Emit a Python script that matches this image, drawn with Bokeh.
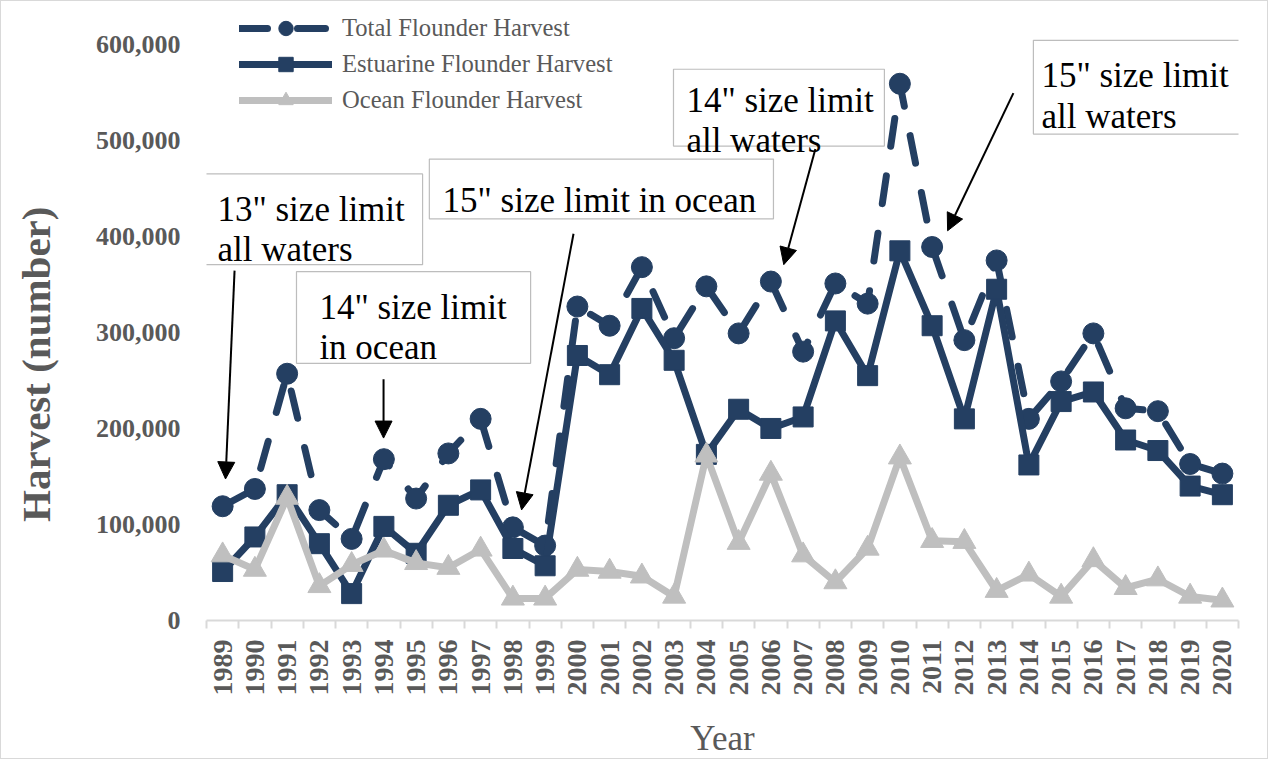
import numpy as np
from bokeh.plotting import figure
from bokeh.models import (FixedTicker, Range1d, Legend, LegendItem, BoxAnnotation,
                          Label, Arrow, NormalHead, NumeralTickFormatter)
from bokeh.embed import file_html
from bokeh.resources import INLINE

# ---------------- data ----------------
years = list(range(1989, 2021))
total = [119000, 137000, 257000, 115000, 85000, 168000, 127000, 174000, 210000, 97000,
         78000, 327000, 307000, 368000, 294000, 348000, 299000, 353000, 280000, 351000,
         330000, 559000, 389000, 292000, 375000, 210000, 249000, 299000, 221000, 218000,
         163000, 153000]
estuarine = [51000, 87000, 131000, 80000, 28000, 98000, 70000, 120000, 136000, 75000,
             57000, 276000, 256000, 325000, 271000, 173000, 220000, 200000, 212000, 312000,
             255000, 385000, 307000, 210000, 345000, 162000, 228000, 238000, 188000, 177000,
             140000, 131000]
ocean = [68000, 53000, 128000, 36000, 58000, 73000, 60000, 55000, 74000, 23000,
         23000, 53000, 51000, 46000, 25000, 172000, 81000, 153000, 68000, 40000,
         75000, 170000, 83000, 82000, 31000, 48000, 25000, 63000, 34000, 43000,
         25000, 21000]
series_names = ["Total Flounder Harvest", "Estuarine Flounder Harvest", "Ocean Flounder Harvest"]
y_ticks = [0, 100000, 200000, 300000, 400000, 500000, 600000]
y_title = "Harvest (number)"
x_title = "Year"

# annotations: (lines of text, box [left, right, top, bottom], text x, baselines, arrow start, arrow end)
notes = [
    (["13\" size limit", "all waters"], (1988.44, 1995.20, 465100, 370600), 1988.84, [427700, 386200],
     (1989.37, 364400), (1989.09, 147400)),
    (["14\" size limit", "in ocean"], (1991.29, 1998.55, 363300, 267800), 1992.00, [326000, 284400],
     (1993.99, 251200), (1993.99, 190000)),
    (["15\" size limit in ocean"], (1995.41, 2006.08, 480600, 418300), 1995.82, [437000],
     (1999.88, 402800), (1998.27, 115200)),
    (["14\" size limit", "all waters"], (2002.98, 2009.52, 574100, 494100), 2003.38, [541900, 500400],
     (2007.38, 491000), (2006.40, 370600)),
    (["15\" size limit", "all waters"], (2014.14, 2020.69, 604200, 506600), 2014.39, [567800, 525300],
     (2013.52, 549200), (2011.48, 405900)),
]

NAVY = "#243f62"
GRAY = "#bfbfbf"
TXT = "#595959"
FONT = "Liberation Serif"

p = figure(width=1268, height=759, output_backend="svg", toolbar_location=None,
           x_range=Range1d(1988.5, 2020.5), y_range=Range1d(0, 640500),
           min_border_left=205, min_border_right=31, min_border_top=4, min_border_bottom=138)
p.styles = {"border": "1px solid #d9d9d9"}
p.xgrid.visible = False
p.ygrid.visible = False
p.outline_line_color = None
p.background_fill_color = "white"

# lines / markers (Excel series order: total drawn first)
l_tot = p.line(years, total, line_color=NAVY, line_width=7, line_dash="28 30",
               line_cap="round", line_join="round")
m_tot = p.scatter(years, total, marker="circle", size=21, fill_color=NAVY, line_color=NAVY)
l_est = p.line(years, estuarine, line_color=NAVY, line_width=7, line_join="round", line_cap="round")
m_est = p.scatter(years, estuarine, marker="square", size=20, fill_color=NAVY, line_color=NAVY)
l_oce = p.line(years, ocean, line_color=GRAY, line_width=7, line_join="round", line_cap="round")
m_oce = p.scatter(years, ocean, marker="triangle", size=23, fill_color=GRAY, line_color=GRAY)

# axes
yax = p.yaxis[0]
yax.ticker = FixedTicker(ticks=y_ticks)
yax.formatter = NumeralTickFormatter(format="0,0")
yax.axis_line_color = None
yax.major_tick_line_color = None
yax.minor_tick_line_color = None
yax.major_label_text_font = FONT
yax.major_label_text_font_style = "bold"
yax.major_label_text_font_size = "26px"
yax.major_label_text_color = TXT
yax.major_label_standoff = 20
# trailing no-break spaces push the centred title a little lower, as in the reference
yax.axis_label = y_title + "\u00a0" * 10
yax.axis_label_text_font = FONT
yax.axis_label_text_font_style = "bold"
yax.axis_label_text_font_size = "41px"
yax.axis_label_text_color = TXT
yax.axis_label_standoff = 34

xax = p.xaxis[0]
xax.ticker = FixedTicker(ticks=years, minor_ticks=[y - 0.5 for y in years] + [years[-1] + 0.5])
xax.axis_line_color = "#d9d9d9"
xax.axis_line_width = 2
xax.major_tick_line_color = None
xax.major_tick_out = 0
xax.minor_tick_line_color = "#d9d9d9"
xax.minor_tick_line_width = 2
xax.minor_tick_out = 8
xax.minor_tick_in = 0
xax.major_label_orientation = np.pi / 2
xax.major_label_text_font = FONT
xax.major_label_text_font_style = "bold"
xax.major_label_text_font_size = "28px"
xax.major_label_text_color = TXT
xax.major_label_standoff = 11
xax.axis_label = x_title
xax.axis_label_text_font = FONT
xax.axis_label_text_font_style = "normal"
xax.axis_label_text_font_size = "35px"
xax.axis_label_text_color = TXT
xax.axis_label_standoff = 20

# legend
legend = Legend(items=[LegendItem(label=series_names[0], renderers=[l_tot, m_tot]),
                       LegendItem(label=series_names[1], renderers=[l_est, m_est]),
                       LegendItem(label=series_names[2], renderers=[l_oce, m_oce])],
                location=(33, 502), glyph_width=93, glyph_height=36, spacing=0, padding=4,
                label_standoff=10, label_text_font=FONT, label_text_font_size="24.6px",
                label_text_color=TXT, border_line_color=None, background_fill_alpha=0)
p.add_layout(legend)

# annotations
for lines, box, tx, baselines, a_start, a_end in notes:
    p.add_layout(BoxAnnotation(left=box[0], right=box[1], top=box[2], bottom=box[3],
                               fill_color="white", fill_alpha=1.0,
                               line_color="#262626", line_width=1.2))
for lines, box, tx, baselines, a_start, a_end in notes:
    for txt, by in zip(lines, baselines):
        p.add_layout(Label(x=tx, y=by, text=txt, text_font=FONT, text_font_size="35px",
                           text_color="black", text_align="left", text_baseline="alphabetic"))
    p.add_layout(Arrow(end=NormalHead(size=17, fill_color="black", line_color="black"),
                       x_start=a_start[0], y_start=a_start[1], x_end=a_end[0], y_end=a_end[1],
                       line_color="black", line_width=2))

open("out.html", "w").write(file_html(p, INLINE))
